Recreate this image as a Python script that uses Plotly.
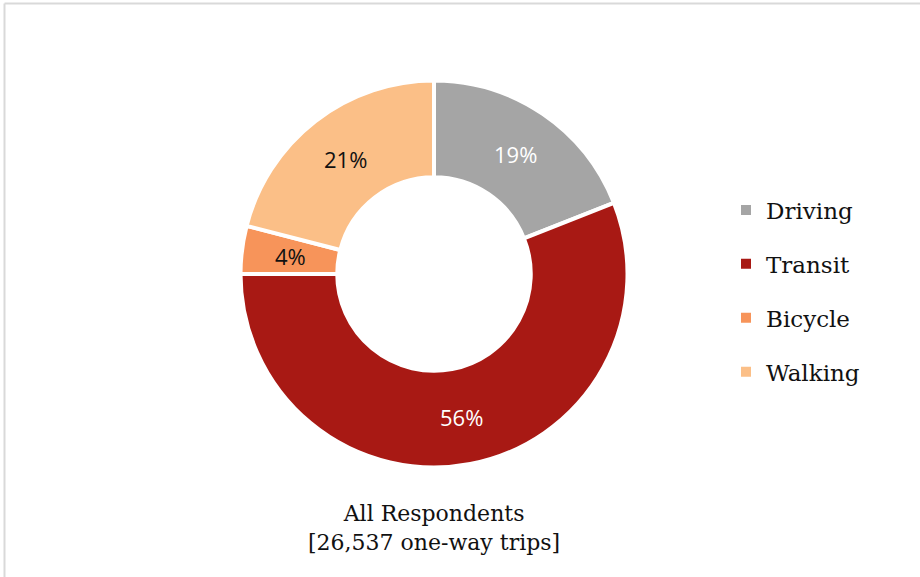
import math
import plotly.graph_objects as go

# Mode share of one-way trips
modes = ["Driving", "Transit", "Bicycle", "Walking"]
shares = [19, 56, 4, 21]
colors = ["#A5A5A5", "#A81914", "#F7945A", "#FBBF87"]
label_colors = ["#FFFFFF", "#FFFFFF", "#111111", "#111111"]
caption_lines = ["All Respondents", "[26,537 one-way trips]"]

W, H = 920, 577
serif = "DejaVu Serif"
sans = "Open Sans"

# Donut placement (pixels) and hole size
cx, cy, r_out = 434, 274, 193.5
hole = 0.5

fig = go.Figure()

fig.add_trace(go.Pie(
    labels=modes,
    values=shares,
    sort=False,
    direction="clockwise",
    rotation=0,
    hole=hole,
    marker=dict(colors=colors, line=dict(color="#FFFFFF", width=4)),
    textinfo="none",
    showlegend=False,
    hoverinfo="label+percent",
    domain=dict(x=[(cx - r_out) / W, (cx + r_out) / W],
                y=[1 - (cy + r_out) / H, 1 - (cy - r_out) / H]),
))

# Percentage labels at the middle of each ring segment
total = sum(shares)
r_mid = r_out * (1 + hole) / 2
cum = 0
for v, col in zip(shares, label_colors):
    frac_mid = (cum + v / 2) / total
    cum += v
    ang = 2 * math.pi * frac_mid  # clockwise from 12 o'clock
    px = cx + r_mid * math.sin(ang)
    py = cy - r_mid * math.cos(ang)
    fig.add_annotation(
        x=px / W, y=1 - py / H, xref="paper", yref="paper",
        text=f"{v}%", showarrow=False,
        xanchor="center", yanchor="middle",
        font=dict(family=sans, size=22, color=col),
    )

# Legend entries: one per mode, spaced by group gap
for m, c in zip(modes, colors):
    fig.add_trace(go.Scatter(
        x=[None], y=[None], mode="markers", name=m,
        legendgroup=m,
        marker=dict(symbol="square", size=10, color=c),
        hoverinfo="skip",
    ))

fig.add_annotation(
    x=cx / W, y=1 - 528 / H, xref="paper", yref="paper",
    text="<br>".join(caption_lines), showarrow=False,
    xanchor="center", yanchor="middle",
    font=dict(family=serif, size=22, color="#111111"),
    align="center",
)

# Chart frame (left and top edges visible)
fig.add_shape(type="line", xref="paper", yref="paper",
              x0=4.5 / W, x1=1.02, y0=1 - 3.5 / H, y1=1 - 3.5 / H,
              line=dict(color="#D9D9D9", width=2))
fig.add_shape(type="line", xref="paper", yref="paper",
              x0=4.5 / W, x1=4.5 / W, y0=-0.02, y1=1 - 3.5 / H,
              line=dict(color="#D9D9D9", width=2))

fig.update_layout(
    width=W, height=H,
    margin=dict(l=0, r=0, t=0, b=0),
    paper_bgcolor="#FFFFFF",
    plot_bgcolor="#FFFFFF",
    xaxis=dict(visible=False),
    yaxis=dict(visible=False),
    legend=dict(
        x=726 / W, y=1 - 291 / H, xanchor="left", yanchor="middle",
        font=dict(family=serif, size=23, color="#111111"),
        tracegroupgap=21,
        itemwidth=30,
        bgcolor="rgba(0,0,0,0)",
    ),
)

fig.write_html("out.html")
